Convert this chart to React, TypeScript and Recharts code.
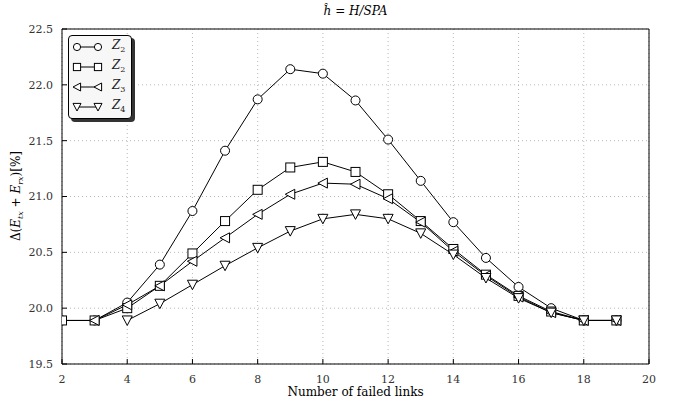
import React from 'react';
import {
  LineChart,
  Line,
  XAxis,
  YAxis,
  CartesianGrid
} from 'recharts';

const failedLinks = [2, 3, 4, 5, 6, 7, 8, 9, 10, 11, 12, 13, 14, 15, 16, 17, 18, 19];
const circleZ2 = [19.89, 19.89, 20.05, 20.39, 20.87, 21.41, 21.87, 22.14, 22.10, 21.86, 21.51, 21.14, 20.77, 20.45, 20.19, 20.0, 19.89, 19.89];
const squareZ2 = [19.89, 19.89, 20.0, 20.2, 20.49, 20.78, 21.06, 21.26, 21.31, 21.22, 21.02, 20.78, 20.53, 20.3, 20.11, 19.97, 19.89, 19.89];
const z3 = [null, 19.89, 20.03, 20.2, 20.42, 20.63, 20.84, 21.02, 21.12, 21.11, 20.98, 20.77, 20.51, 20.29, 20.1, 19.96, 19.89, 19.89];
const z4 = [null, null, 19.89, 20.04, 20.21, 20.38, 20.54, 20.69, 20.8, 20.84, 20.8, 20.67, 20.48, 20.27, 20.09, 19.96, 19.89, 19.89];

const xTicks = [2, 4, 6, 8, 10, 12, 14, 16, 18, 20];
const yTicks = [19.5, 20.0, 20.5, 21.0, 21.5, 22.0, 22.5];

const data = failedLinks.map((x, i) => ({
  x,
  c2: circleZ2[i],
  s2: squareZ2[i],
  z3: z3[i],
  z4: z4[i],
}));

const FONT = '"DejaVu Serif", "Liberation Serif", serif';

type Shape = 'circle' | 'square' | 'left' | 'down';

const Marker = ({ cx, cy, shape, s = 1 }: { cx: number; cy: number; shape: Shape; s?: number }) => {
  const p = { fill: '#fff', stroke: '#000', strokeWidth: 1 };
  const a = 4.5 * s;
  const b = 5 * s;
  if (shape === 'circle') return <circle cx={cx} cy={cy} r={a} {...p} />;
  if (shape === 'square') return <rect x={cx - a} y={cy - a} width={2 * a} height={2 * a} {...p} />;
  if (shape === 'left')
    return <polygon points={`${cx - b},${cy} ${cx + a},${cy - b} ${cx + a},${cy + b}`} {...p} />;
  return <polygon points={`${cx},${cy + b} ${cx - b},${cy - a} ${cx + b},${cy - a}`} {...p} />;
};

const makeDot = (shape: Shape) => (props: any) => {
  const { cx, cy, value, index } = props;
  if (value == null || cx == null || cy == null) return <g key={`${shape}-${index}`} />;
  return <Marker key={`${shape}-${index}`} cx={cx} cy={cy} shape={shape} />;
};

const legendItems: { shape: Shape; label: string }[] = [
  { shape: 'circle', label: '2' },
  { shape: 'square', label: '2' },
  { shape: 'left', label: '3' },
  { shape: 'down', label: '4' },
];

const LegendBox = () => (
  <div
    style={{
      position: 'absolute',
      left: 68,
      top: 35,
      width: 62,
      height: 82,
      border: '1.5px solid #000',
      borderRadius: 4,
      background: '#f7f7f7',
      boxShadow: '3px 3px 0 #333',
      fontFamily: FONT,
    }}
  >
    {legendItems.map((it, i) => (
      <div key={i} style={{ display: 'flex', alignItems: 'center', height: 20, marginTop: i === 0 ? 1 : 0 }}>
        <svg width={32} height={14} style={{ marginLeft: 2 }}>
          <line x1={6} y1={7} x2={27} y2={7} stroke="#000" strokeWidth={1} />
          <Marker cx={6} cy={7} shape={it.shape} s={0.8} />
          <Marker cx={27} cy={7} shape={it.shape} s={0.8} />
        </svg>
        <span style={{ fontSize: 12, fontStyle: 'italic', marginLeft: 9, lineHeight: '12px', color: '#222' }}>
          Z<sub style={{ fontSize: 8, fontStyle: 'normal', verticalAlign: -3 }}>{it.label}</sub>
        </span>
      </div>
    ))}
  </div>
);

const tickStyle = { fontFamily: FONT, fontSize: 11, fill: '#333' };
const subStyle = { fontSize: 8, verticalAlign: -3 };

export default function App() {
  return (
    <div style={{ position: 'absolute', left: 0, top: 0, width: 676, height: 404, background: '#fff' }}>
      <LineChart
        width={676}
        height={404}
        data={data}
        margin={{ top: 28, right: 26, bottom: 0, left: 0 }}
      >
        <CartesianGrid xAxisId="b" yAxisId="l" stroke="#b8b8b8" strokeDasharray="1 3" />
        <XAxis
          xAxisId="b"
          dataKey="x"
          type="number"
          domain={[2, 20]}
          ticks={xTicks}
          height={40}
          tickSize={-5}
          tickMargin={16}
          tick={tickStyle}
          stroke="#000"
          allowDataOverflow
        />
        <XAxis
          xAxisId="t"
          orientation="top"
          dataKey="x"
          type="number"
          domain={[2, 20]}
          ticks={xTicks}
          height={1}
          tickSize={-5}
          tick={false}
          stroke="#000"
        />
        <YAxis
          yAxisId="l"
          type="number"
          domain={[19.5, 22.5]}
          ticks={yTicks}
          width={62}
          tickSize={-5}
          tickMargin={14}
          tick={tickStyle}
          tickFormatter={(v: number) => v.toFixed(1)}
          stroke="#000"
          allowDataOverflow
        />
        <YAxis
          yAxisId="r"
          orientation="right"
          type="number"
          domain={[19.5, 22.5]}
          ticks={yTicks}
          width={1}
          tickSize={-5}
          tick={false}
          stroke="#000"
        />
        <Line xAxisId="b" yAxisId="l" dataKey="c2" name="Z2" stroke="#000" strokeWidth={1} dot={makeDot('circle')} isAnimationActive={false} />
        <Line xAxisId="b" yAxisId="l" dataKey="s2" name="Z2" stroke="#000" strokeWidth={1} dot={makeDot('square')} isAnimationActive={false} />
        <Line xAxisId="b" yAxisId="l" dataKey="z3" name="Z3" stroke="#000" strokeWidth={1} dot={makeDot('left')} isAnimationActive={false} />
        <Line xAxisId="b" yAxisId="l" dataKey="z4" name="Z4" stroke="#000" strokeWidth={1} dot={makeDot('down')} isAnimationActive={false} />
      </LineChart>
      <div
        style={{
          position: 'absolute',
          left: 62,
          width: 587,
          top: 4,
          textAlign: 'center',
          fontFamily: FONT,
          fontSize: 12,
          fontStyle: 'italic',
        }}
      >
        {'h\u0302'} <span style={{ fontStyle: 'normal' }}>=</span> H/SPA
      </div>
      <div
        style={{
          position: 'absolute',
          left: 18,
          top: 196,
          transform: 'translate(-50%, -50%) rotate(-90deg)',
          whiteSpace: 'nowrap',
          fontFamily: FONT,
          fontSize: 12,
          lineHeight: '14px',
        }}
      >
        Δ(<i>E</i><sub style={subStyle}><i>tx</i></sub> + <i>E</i><sub style={subStyle}><i>rx</i></sub>)[%]
      </div>
      <div
        style={{
          position: 'absolute',
          left: 62,
          width: 587,
          top: 385,
          textAlign: 'center',
          fontFamily: FONT,
          fontSize: 12,
        }}
      >
        Number of failed links
      </div>
      <LegendBox />
    </div>
  );
}
